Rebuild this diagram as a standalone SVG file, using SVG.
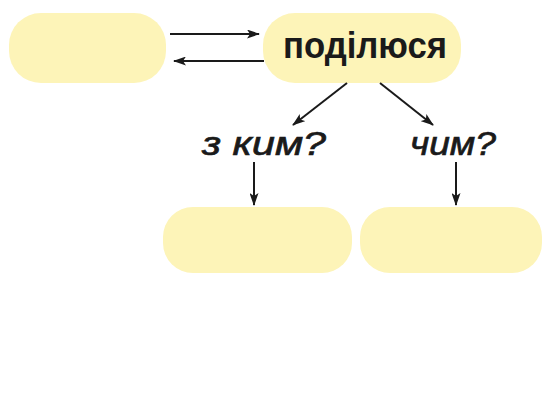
<svg xmlns="http://www.w3.org/2000/svg" width="544" height="394" viewBox="0 0 544 394">
  <defs>
    <marker id="ah" viewBox="0 0 13 9" refX="12" refY="4.5" markerWidth="13" markerHeight="9" markerUnits="userSpaceOnUse" orient="auto">
      <path d="M0,0 L13,4.5 L0,9 L3,4.5 Z" fill="#1a1a1a"/>
    </marker>
  </defs>
  <style>
    .box { fill: #fdf4b8; }
    .lbl { font-family: "Liberation Sans", Arial, sans-serif; fill: #1a1a1a; }
    .main { font-size: 37px; font-weight: bold; }
    .q { font-size: 33px; font-style: italic; stroke: #1a1a1a; stroke-width: 0.7; }
    .arr { stroke: #1a1a1a; stroke-width: 2; fill: none; marker-end: url(#ah); }
  </style>
  <rect width="544" height="394" fill="#ffffff"/>
  <g id="node-left">
    <rect class="box" x="9" y="13" width="157" height="70" rx="32" ry="32"/>
  </g>
  <g id="node-share">
    <rect class="box" x="263" y="13" width="198" height="70" rx="32" ry="32"/>
    <text class="lbl main" x="365" y="58" text-anchor="middle" textLength="164" lengthAdjust="spacingAndGlyphs">поділюся</text>
  </g>
  <g id="node-whom">
    <text class="lbl q" x="264" y="155" text-anchor="middle" textLength="124" lengthAdjust="spacingAndGlyphs">з ким?</text>
  </g>
  <g id="node-what">
    <text class="lbl q" x="453" y="155" text-anchor="middle" textLength="86" lengthAdjust="spacingAndGlyphs">чим?</text>
  </g>
  <g id="node-bottom-left">
    <rect class="box" x="163" y="207" width="189" height="66" rx="30" ry="30"/>
  </g>
  <g id="node-bottom-right">
    <rect class="box" x="360" y="207" width="182" height="66" rx="30" ry="30"/>
  </g>
  <g id="connectors">
    <line class="arr" x1="170" y1="34" x2="259" y2="34"/>
    <line class="arr" x1="264" y1="61" x2="174" y2="61"/>
    <line class="arr" x1="347" y1="83" x2="293" y2="125"/>
    <line class="arr" x1="380" y1="83" x2="433" y2="125"/>
    <line class="arr" x1="254" y1="162" x2="254" y2="205"/>
    <line class="arr" x1="456" y1="162" x2="456" y2="205"/>
  </g>
</svg>
